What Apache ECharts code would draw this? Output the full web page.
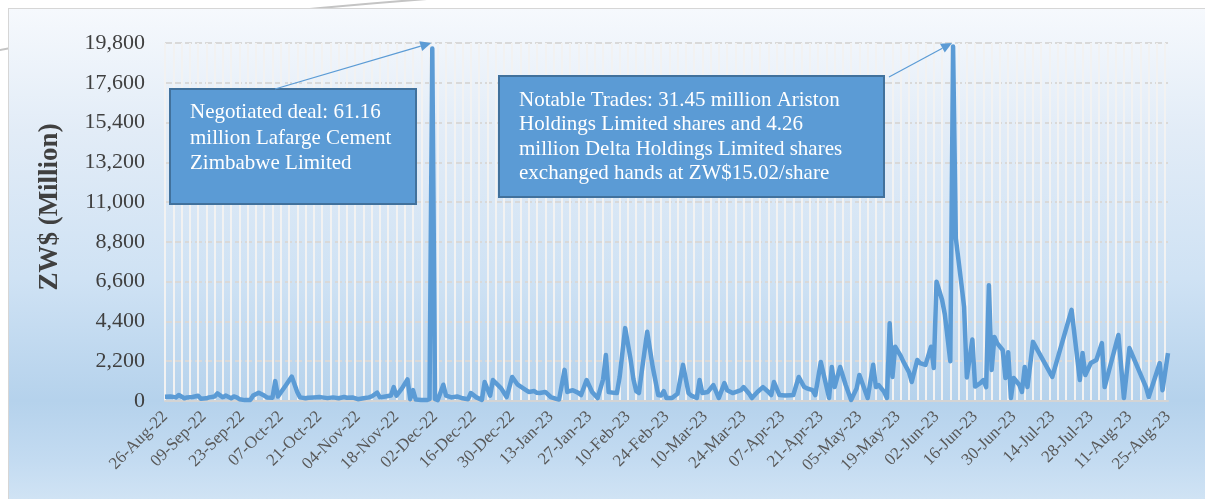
<!DOCTYPE html>
<html>
<head>
<meta charset="utf-8">
<script src="https://cdn.jsdelivr.net/npm/echarts@6/dist/echarts.min.js"></script>
<style>
  html, body { margin: 0; padding: 0; background: #ffffff; }
  #wrap { position: relative; width: 1205px; height: 499px; overflow: hidden; }
  #arc { position: absolute; left: 0; top: 0; }
  #frame {
    position: absolute; left: 8px; top: 8px; right: 0; bottom: 0;
    border-left: 1px solid #d6d6d6; border-top: 1px solid #d6d6d6;
    background: linear-gradient(to bottom, #f6f9fd 0%, #e2ecf7 25%, #cfe2f4 55%, #b5d2ec 80%, #c3dbf1 92%, #d0e3f4 100%);
  }
  #tradesChart { position: absolute; left: 0; top: 0; width: 1205px; height: 499px; }
</style>
</head>
<body>
<div id="wrap">
  <svg id="arc" width="1205" height="499"><path d="M -10 52 Q 150 20 440 -2" stroke="#c4c4c4" stroke-width="2" fill="none"/></svg>
  <div id="frame"></div>
  <div id="tradesChart"></div>
</div>
<script>
// calendar days shown on the axis (Excel date axis, base unit = day)
const monthNames = ['Jan', 'Feb', 'Mar', 'Apr', 'May', 'Jun', 'Jul', 'Aug', 'Sep', 'Oct', 'Nov', 'Dec'];
const firstDay = Date.UTC(2022, 7, 26);
const lastDay = Date.UTC(2023, 7, 25);

// traded value per session, ZW$ million
const tradeDates = [
  '26-Aug-22', '28-Aug-22', '30-Aug-22', '31-Aug-22',
  '02-Sep-22', '03-Sep-22', '05-Sep-22', '07-Sep-22', '08-Sep-22', '10-Sep-22', '11-Sep-22', '13-Sep-22', '14-Sep-22', '16-Sep-22', '17-Sep-22', '19-Sep-22', '20-Sep-22', '21-Sep-22', '22-Sep-22', '24-Sep-22', '26-Sep-22', '27-Sep-22', '29-Sep-22',
  '01-Oct-22', '02-Oct-22', '04-Oct-22', '05-Oct-22', '06-Oct-22', '09-Oct-22', '11-Oct-22', '13-Oct-22', '14-Oct-22', '16-Oct-22', '17-Oct-22', '19-Oct-22', '21-Oct-22', '22-Oct-22', '24-Oct-22', '26-Oct-22', '28-Oct-22', '30-Oct-22', '31-Oct-22',
  '02-Nov-22', '04-Nov-22', '06-Nov-22', '08-Nov-22', '09-Nov-22', '11-Nov-22', '12-Nov-22', '14-Nov-22', '16-Nov-22', '17-Nov-22', '18-Nov-22', '20-Nov-22', '22-Nov-22', '23-Nov-22', '24-Nov-22', '25-Nov-22', '27-Nov-22', '29-Nov-22', '30-Nov-22',
  '01-Dec-22', '02-Dec-22', '03-Dec-22', '05-Dec-22', '06-Dec-22', '08-Dec-22', '10-Dec-22', '12-Dec-22', '14-Dec-22', '15-Dec-22', '17-Dec-22', '19-Dec-22', '20-Dec-22', '22-Dec-22', '23-Dec-22', '26-Dec-22', '28-Dec-22', '30-Dec-22',
  '01-Jan-23', '04-Jan-23', '05-Jan-23', '07-Jan-23', '08-Jan-23', '09-Jan-23', '11-Jan-23', '13-Jan-23', '15-Jan-23', '16-Jan-23', '18-Jan-23', '19-Jan-23', '21-Jan-23', '23-Jan-23', '24-Jan-23', '26-Jan-23', '28-Jan-23', '30-Jan-23',
  '01-Feb-23', '02-Feb-23', '03-Feb-23', '05-Feb-23', '06-Feb-23', '07-Feb-23', '09-Feb-23', '11-Feb-23', '12-Feb-23', '13-Feb-23', '14-Feb-23', '15-Feb-23', '17-Feb-23', '19-Feb-23', '21-Feb-23', '22-Feb-23', '23-Feb-23', '24-Feb-23', '26-Feb-23', '28-Feb-23',
  '02-Mar-23', '04-Mar-23', '05-Mar-23', '07-Mar-23', '08-Mar-23', '09-Mar-23', '11-Mar-23', '13-Mar-23', '15-Mar-23', '17-Mar-23', '18-Mar-23', '20-Mar-23', '22-Mar-23', '23-Mar-23', '24-Mar-23', '26-Mar-23', '27-Mar-23', '29-Mar-23', '31-Mar-23',
  '02-Apr-23', '03-Apr-23', '04-Apr-23', '06-Apr-23', '08-Apr-23', '10-Apr-23', '11-Apr-23', '13-Apr-23', '15-Apr-23', '16-Apr-23', '18-Apr-23', '19-Apr-23', '21-Apr-23', '24-Apr-23', '25-Apr-23', '26-Apr-23', '28-Apr-23', '30-Apr-23',
  '02-May-23', '04-May-23', '05-May-23', '08-May-23', '10-May-23', '11-May-23', '12-May-23', '14-May-23', '15-May-23', '16-May-23', '17-May-23', '18-May-23', '20-May-23', '21-May-23', '23-May-23', '24-May-23', '26-May-23', '27-May-23', '29-May-23', '31-May-23',
  '01-Jun-23', '02-Jun-23', '04-Jun-23', '05-Jun-23', '07-Jun-23', '08-Jun-23', '09-Jun-23', '11-Jun-23', '12-Jun-23', '13-Jun-23', '15-Jun-23', '16-Jun-23', '18-Jun-23', '19-Jun-23', '20-Jun-23', '21-Jun-23', '22-Jun-23', '23-Jun-23', '24-Jun-23', '26-Jun-23', '27-Jun-23', '28-Jun-23', '29-Jun-23', '30-Jun-23',
  '02-Jul-23', '03-Jul-23', '04-Jul-23', '05-Jul-23', '07-Jul-23', '14-Jul-23', '21-Jul-23', '24-Jul-23', '25-Jul-23', '26-Jul-23', '28-Jul-23', '30-Jul-23',
  '01-Aug-23', '02-Aug-23', '07-Aug-23', '09-Aug-23', '11-Aug-23', '17-Aug-23', '18-Aug-23', '22-Aug-23', '23-Aug-23', '25-Aug-23'
];
const tradeValues = [
  240, 250, 200, 330,
  150, 200, 220, 290, 120, 150, 200, 250, 420, 200, 300, 150, 250, 200, 100, 50, 60, 300, 460,
  300, 200, 180, 1100, 250, 900, 1350, 500, 200, 150, 180, 200, 220, 200, 160, 200, 150, 220, 180,
  200, 100, 150, 200, 250, 460, 200, 250, 300, 770, 300, 700, 1200, 100, 600, 80, 60, 50, 100,
  19500, 100, 50, 900, 300, 200, 250, 150, 100, 440, 200, 60, 1050, 300, 1160, 700, 220, 1330,
  900, 600, 500, 550, 450, 440, 500, 220, 120, 80, 1720, 500, 600, 450, 330, 1160, 500, 165,
  1200, 2540, 500, 450, 440, 1330, 4030, 2270, 1200, 550, 440, 1600, 3830, 1880, 330, 300, 550, 160, 160, 400,
  2000, 440, 300, 165, 1160, 440, 500, 880, 165, 990, 600, 440, 550, 600, 770, 400, 165, 500, 770,
  500, 330, 1050, 330, 300, 320, 330, 1330, 770, 700, 600, 330, 2160, 165, 1880, 770, 1880, 900,
  55, 700, 1440, 165, 2000, 770, 880, 500, 165, 4300, 1330, 3000, 2500, 2160, 1600, 1050, 2270, 2100, 2000, 3000,
  1830, 6600, 5600, 4800, 2200, 19600, 9000, 6500, 5200, 1300, 3400, 800, 1000, 1160, 770, 6400, 1720, 3540, 3200, 2820, 1270, 2700, 165, 1270,
  900, 500, 1880, 770, 3270, 1330, 5040, 1160, 2650, 1440, 2100, 2270,
  3200, 770, 3650, 165, 2930, 770, 220, 2100, 600, 2650
];

// y axis ticks
const yMin = 0;
const yMax = 19800;
const yStep = 2200;

// callouts and the trade each one points at
const notes = [
  { date: '01-Dec-22', lines: ['Negotiated deal: 61.16', 'million Lafarge Cement', 'Zimbabwe Limited'] },
  { date: '08-Jun-23', lines: ['Notable Trades: 31.45 million Ariston', 'Holdings Limited shares and 4.26', 'million Delta Holdings Limited shares', 'exchanged hands at ZW$15.02/share'] }
];

const pad2 = n => (n < 10 ? '0' : '') + n;
const categories = [];
for (let t = firstDay; t <= lastDay; t += 86400000) {
  const d = new Date(t);
  categories.push(pad2(d.getUTCDate()) + '-' + monthNames[d.getUTCMonth()] + '-' + String(d.getUTCFullYear()).slice(2));
}
const seriesData = tradeDates.map((d, i) => [categories.indexOf(d), tradeValues[i]]);

const chartDom = document.getElementById('tradesChart');
const myChart = echarts.init(chartDom, null, { renderer: 'canvas' });

const serif = '"Liberation Serif", "Times New Roman", serif';

myChart.setOption({
  animation: false,
  backgroundColor: 'transparent',
  grid: { left: 165, right: 37, top: 43, bottom: 98 },
  xAxis: {
    type: 'category',
    data: categories,
    boundaryGap: false,
    axisLine: { show: true, lineStyle: { color: '#d4d4d4', width: 2 } },
    axisTick: { show: false },
    axisLabel: {
      interval: 13,
      rotate: 45,
      margin: 13,
      color: '#595959',
      fontFamily: serif,
      fontSize: 17
    },
    splitLine: {
      show: true,
      interval: 2,
      lineStyle: { color: '#f2f2f2', width: 2 }
    }
  },
  yAxis: {
    type: 'value',
    min: yMin,
    max: yMax,
    interval: yStep,
    name: 'ZW$ (Million)',
    nameLocation: 'middle',
    nameGap: 101,
    nameTextStyle: { color: '#404040', fontFamily: serif, fontSize: 27, fontWeight: 'bold', padding: [0, 0, 0, 30] },
    axisLine: { show: false },
    axisTick: { show: false },
    axisLabel: {
      margin: 20,
      color: '#404040',
      fontFamily: serif,
      fontSize: 22,
      formatter: v => v.toLocaleString('en-US')
    },
    splitLine: { lineStyle: { color: '#d9d9d9', width: 2, type: [7, 3] } }
  },
  series: [{
    type: 'line',
    data: seriesData,
    showSymbol: false,
    connectNulls: true,
    lineStyle: { color: '#5b9bd5', width: 4.5, join: 'round' },
    itemStyle: { color: '#5b9bd5' },
    z: 3
  }]
});

// callout boxes with arrows to the two big trades
const boxes = [
  { x: 170, y: 89, w: 246, h: 115, textTop: 11, lineH: 25.5, tail: [275, 89] },
  { x: 499, y: 76, w: 385, h: 121, textTop: 12, lineH: 24.5, tail: [889, 77] }
];
const graphics = [];
notes.forEach((note, k) => {
  const b = boxes[k];
  const tip = myChart.convertToPixel({ gridIndex: 0 }, [categories.indexOf(note.date), yMax]);
  const tx = tip[0] - 1, ty = tip[1];
  const dx = tx - b.tail[0], dy = ty - b.tail[1];
  const len = Math.sqrt(dx * dx + dy * dy);
  const ux = dx / len, uy = dy / len;
  const headLen = 11, headW = 5;
  const bx = tx - ux * headLen, by = ty - uy * headLen;
  graphics.push({
    type: 'rect',
    shape: { x: b.x, y: b.y, width: b.w, height: b.h },
    style: { fill: '#5b9bd5', stroke: '#41719c', lineWidth: 2 },
    z: 10
  });
  graphics.push({
    type: 'text',
    x: b.x + 20,
    y: b.y + b.textTop,
    style: {
      text: note.lines.join('\n'),
      fill: '#ffffff',
      font: '21px ' + serif,
      lineHeight: b.lineH,
      textVerticalAlign: 'top'
    },
    z: 11
  });
  graphics.push({
    type: 'line',
    shape: { x1: b.tail[0], y1: b.tail[1], x2: bx, y2: by },
    style: { stroke: '#5b9bd5', lineWidth: 1.2 },
    z: 10
  });
  graphics.push({
    type: 'polygon',
    shape: { points: [[tx, ty], [bx - uy * headW, by + ux * headW], [bx + uy * headW, by - ux * headW]] },
    style: { fill: '#5b9bd5' },
    z: 10
  });
});
myChart.setOption({ graphic: graphics });

window.addEventListener('resize', () => {
  myChart.resize();
});
</script>
</body>
</html>
